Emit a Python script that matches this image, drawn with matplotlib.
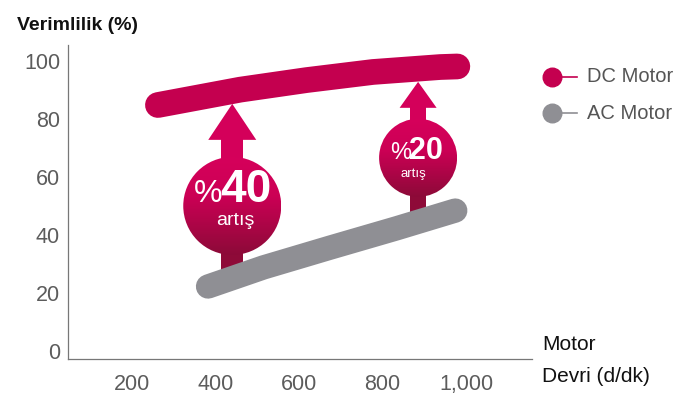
import numpy as np
import matplotlib
matplotlib.use("Agg")
import matplotlib.pyplot as plt
from matplotlib.colors import LinearSegmentedColormap
from matplotlib.patches import Ellipse, Polygon, Rectangle
from matplotlib.lines import Line2D

plt.rcParams['font.family'] = ['Liberation Sans', 'DejaVu Sans']

# efficiency curves (rpm, %)
dc_rpm = [262, 459, 618, 777, 938, 979]
dc_eff = [84.8, 90.1, 93.4, 96.2, 97.9, 98.1]
ac_rpm = [382, 515, 674, 834, 974]
ac_eff = [22.2, 28.8, 35.6, 42.3, 48.4]

x_ticks = [200, 400, 600, 800, 1000]
x_tick_labels = ['200', '400', '600', '800', '1,000']
y_ticks = [0, 20, 40, 60, 80, 100]

series_names = ['DC Motor', 'AC Motor']

# "artis" arrows: rpm, label, bottom, circle centre, tip (all in data units)
gain_rpm = [440, 885]
gain_label = ['40', '20']
gain_base = [25.0, 45.0]
gain_center = [50.0, 66.6]
gain_tip = [85.2, 92.8]

DC_COLOR = '#c4004f'
AC_COLOR = '#8f8f94'
BRIGHT = '#d4005a'
DARK = '#8e0a38'
W, H = 679, 395

fig = plt.figure(figsize=(W / 100, H / 100), dpi=100)
ax = fig.add_axes([67.7 / W, 36 / H, 464 / W, 314 / H])
xlim = (46, 1157)
ylim = (-2.8, 105.5)
ax.set_xlim(xlim)
ax.set_ylim(ylim)

# pixels per data unit
sx = ax.bbox.width / (xlim[1] - xlim[0])
sy = ax.bbox.height / (ylim[1] - ylim[0])

ax.plot(dc_rpm, dc_eff, color=DC_COLOR, lw=18.5, solid_capstyle='round',
        solid_joinstyle='round', zorder=2)
ax.plot(ac_rpm, ac_eff, color=AC_COLOR, lw=17.5, solid_capstyle='round',
        solid_joinstyle='round', zorder=5)

# circle gradient: bright top, dark bottom
grad_cmap = LinearSegmentedColormap.from_list('gain', [
    (0, '#d6005b'),
    (0.4, '#cc0055'),
    (1, '#8c0a38'),
], N=256)
grad = np.linspace(0, 1, 256).reshape(-1, 1)

radius_px = [49, 39]
head_w_px = [48, 37]
head_h_px = [36, 26]
shaft_w_px = [22, 16]
pct_size = [23, 17]
num_size = [33, 22]
artis_size = [14, 9.5]
num_off = [(-10, 4), (-7, -1)]      # pixels from circle centre (x right, y up)
artis_off = [(3, -15), (-5, -16)]

for i, x in enumerate(gain_rpm):
    cy = gain_center[i]
    tip = gain_tip[i]
    r = radius_px[i]
    head_base = tip - head_h_px[i] / sy
    sw = shaft_w_px[i] / sx
    hw = head_w_px[i] / sx

    ax.add_patch(Rectangle((x - sw / 2, cy), sw, head_base - cy + 0.3,
                           fc=BRIGHT, lw=0, zorder=3))
    ax.add_patch(Polygon([(x - hw / 2, head_base), (x + hw / 2, head_base), (x, tip)],
                         closed=True, fc=BRIGHT, lw=0, zorder=3))
    ax.add_patch(Rectangle((x - sw / 2, gain_base[i]), sw, cy - gain_base[i],
                           fc=DARK, lw=0, zorder=3))

    circ = Ellipse((x, cy), 2 * r / sx, 2 * r / sy, fc='none', ec='none', zorder=4)
    ax.add_patch(circ)
    im = ax.imshow(grad, extent=(x - r / sx, x + r / sx, cy - r / sy, cy + r / sy),
                   cmap=grad_cmap, aspect='auto', origin='upper', zorder=4,
                   interpolation='bilinear')
    im.set_clip_path(circ)

    ox, oy = num_off[i]
    ax.annotate('%', (x, cy), xytext=(ox * 0.72, oy * 0.72), textcoords='offset points',
                ha='right', va='baseline', color='white', fontsize=pct_size[i], zorder=6)
    ax.annotate(gain_label[i], (x, cy), xytext=(ox * 0.72 - 1.5, oy * 0.72),
                textcoords='offset points', ha='left', va='baseline', color='white',
                fontsize=num_size[i], fontweight='bold', zorder=6)
    ax.annotate('artış', (x, cy), xytext=(artis_off[i][0] * 0.72, artis_off[i][1] * 0.72),
                textcoords='offset points', ha='center', va='center', color='white',
                fontsize=artis_size[i], zorder=6)

ax.set_xlim(xlim)
ax.set_ylim(ylim)

ax.set_xticks(x_ticks)
ax.set_xticklabels(x_tick_labels)
ax.set_yticks(y_ticks)
ax.tick_params(axis='both', length=0, labelsize=15.5, labelcolor='#5c5c5c')
ax.tick_params(axis='y', pad=5.5)
ax.tick_params(axis='x', pad=11)
for side in ['top', 'right']:
    ax.spines[side].set_visible(False)
for side in ['left', 'bottom']:
    ax.spines[side].set_color('#777777')
    ax.spines[side].set_linewidth(0.9)

fig.text(17 / W, 1 - 25 / H, 'Verimlilik (%)', va='center', ha='left',
         fontsize=14, fontweight='bold', color='#111111')
fig.text(542 / W, 1 - 345 / H, 'Motor', va='center', ha='left', fontsize=15, color='#111111')
fig.text(542 / W, 1 - 377 / H, 'Devri (d/dk)', va='center', ha='left', fontsize=15,
         color='#111111')

# legend: marker with a short tail to the right
for name, color, ypx in zip(series_names, [DC_COLOR, AC_COLOR], [76.7, 113.3]):
    yf = 1 - ypx / H
    fig.add_artist(Line2D([555 / W, 577 / W], [yf, yf], color=color, lw=1.2))
    fig.add_artist(Line2D([551.7 / W], [yf], marker='o', ms=13.4, color=color, mec=color))
    fig.text(586.7 / W, yf, name, va='center', ha='left', fontsize=14.5, color='#555555')

fig.savefig('out.png', dpi=100)
